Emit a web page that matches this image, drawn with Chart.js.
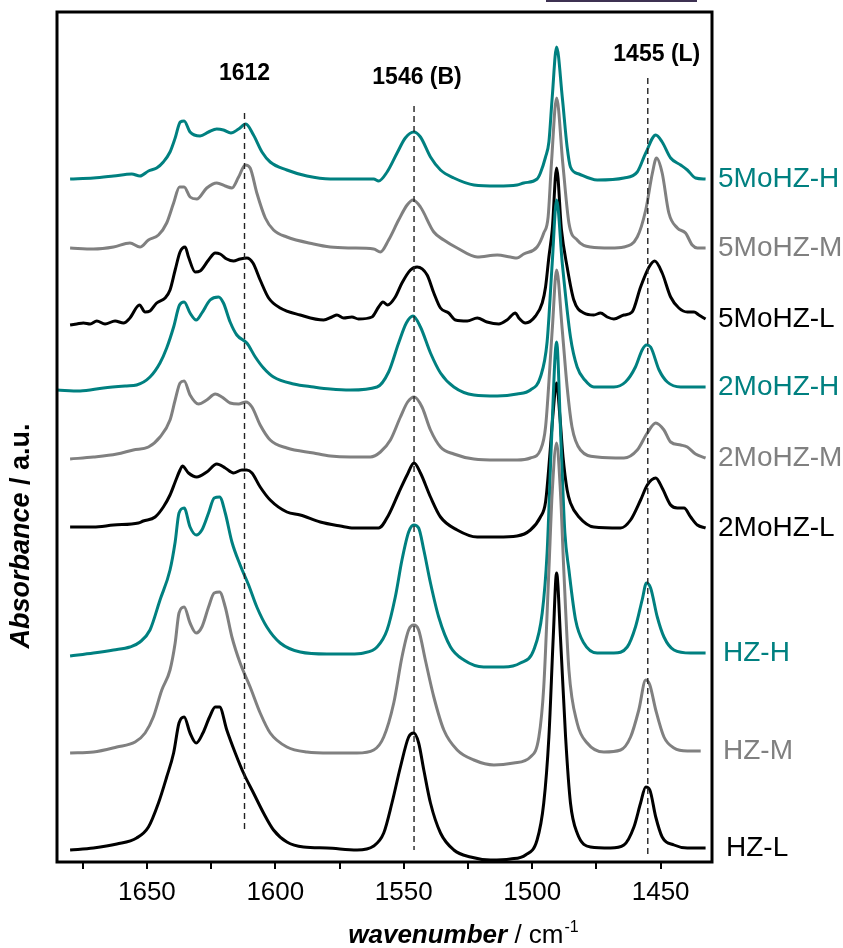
<!DOCTYPE html>
<html><head><meta charset="utf-8">
<script src="https://cdn.jsdelivr.net/npm/chart.js@4.4.0/dist/chart.umd.min.js"></script>
<style>html,body{margin:0;padding:0;background:#fff;}canvas{display:block;}</style>
</head><body>
<canvas id="c" width="843" height="948"></canvas>
<script>
// ---------- data (wavenumber / cm-1, offset absorbance / a.u.) ----------
const seriesNames = ['5MoHZ-H','5MoHZ-M','5MoHZ-L','2MoHZ-H','2MoHZ-M','2MoHZ-L','HZ-H','HZ-M','HZ-L'];

const wn5MoHZ_H = [1679.9,1670.8,1663.0,1655.9,1652.7,1649.4,1646.2,1643.6,1641.0,1639.0,1637.0,1635.5,1633.2,1629.3,1626.0,1622.8,1620.2,1617.3,1614.3,1611.5,1608.5,1605.2,1602.0,1595.5,1587.7,1578.6,1570.8,1561.7,1559.8,1556.5,1552.6,1549.4,1546.1,1543.5,1539.6,1535.7,1530.5,1522.7,1513.6,1505.9,1503.3,1498.1,1496.8,1494.8,1493.5,1492.2,1490.5,1488.3,1486.4,1485.1,1481.8,1474.7,1464.3,1459.1,1455.8,1451.9,1449.4,1446.1,1442.2,1439.6,1436.4,1432.5];
const abs5MoHZ_H = [6.83,6.84,6.86,6.88,6.86,6.91,6.94,7.00,7.10,7.24,7.40,7.41,7.30,7.26,7.30,7.33,7.32,7.29,7.33,7.38,7.27,7.10,7.00,6.92,6.86,6.83,6.83,6.83,6.81,6.90,7.09,7.24,7.30,7.25,7.05,6.92,6.84,6.77,6.76,6.77,6.79,6.83,6.89,7.05,7.20,7.65,8.15,7.65,7.15,6.95,6.88,6.82,6.84,6.90,7.09,7.27,7.20,7.04,6.97,6.92,6.84,6.83];

const wn5MoHZ_M = [1679.9,1670.8,1663.0,1656.6,1652.7,1649.4,1645.5,1642.3,1639.6,1637.3,1635.5,1633.2,1630.6,1626.7,1622.8,1619.5,1616.9,1614.3,1611.7,1609.8,1607.2,1603.9,1600.7,1595.5,1585.1,1578.6,1570.8,1561.7,1559.1,1555.9,1552.0,1548.7,1546.4,1543.5,1538.3,1534.4,1529.2,1521.4,1513.6,1508.5,1505.9,1503.3,1498.1,1495.5,1493.8,1492.5,1490.5,1488.1,1485.7,1482.5,1477.3,1469.5,1464.3,1459.1,1455.8,1453.2,1451.6,1449.4,1446.8,1443.5,1440.3,1437.7,1435.7,1432.5];
const abs5MoHZ_M = [6.14,6.13,6.15,6.19,6.15,6.22,6.27,6.39,6.59,6.75,6.75,6.65,6.63,6.74,6.79,6.76,6.74,6.85,6.97,6.94,6.69,6.44,6.32,6.25,6.18,6.15,6.14,6.13,6.10,6.22,6.42,6.57,6.62,6.55,6.30,6.22,6.14,6.05,6.07,6.05,6.04,6.08,6.15,6.29,6.45,6.99,7.64,6.99,6.39,6.22,6.15,6.14,6.15,6.25,6.52,6.89,7.04,6.89,6.49,6.34,6.29,6.17,6.14,6.14];

const wn5MoHZ_L = [1679.9,1677.3,1674.7,1672.1,1669.5,1666.3,1662.4,1659.1,1656.6,1652.9,1650.7,1648.8,1646.2,1642.9,1641.0,1639.0,1637.1,1635.1,1633.8,1631.2,1629.3,1626.0,1623.4,1621.5,1618.9,1616.3,1613.7,1611.1,1608.7,1605.9,1602.6,1598.1,1590.3,1581.2,1578.0,1576.0,1573.4,1570.2,1567.6,1562.4,1559.8,1558.1,1556.3,1553.3,1550.7,1547.4,1544.8,1540.9,1538.3,1535.7,1532.5,1529.9,1525.3,1521.4,1517.6,1513.0,1509.8,1506.5,1505.2,1502.6,1498.7,1496.1,1494.8,1493.5,1492.2,1490.5,1488.6,1486.4,1483.8,1479.9,1476.0,1473.4,1470.8,1468.2,1464.3,1461.1,1457.8,1454.5,1452.3,1449.4,1446.1,1442.9,1439.6,1437.0,1435.1,1432.5];
const abs5MoHZ_L = [5.37,5.38,5.39,5.38,5.41,5.38,5.41,5.39,5.44,5.57,5.50,5.51,5.59,5.64,5.72,5.92,6.10,6.15,6.05,5.90,5.91,6.02,6.09,6.08,6.03,6.01,6.03,6.04,5.99,5.82,5.64,5.54,5.47,5.42,5.45,5.47,5.44,5.45,5.43,5.45,5.55,5.60,5.57,5.65,5.79,5.92,5.95,5.87,5.69,5.54,5.49,5.42,5.41,5.44,5.40,5.38,5.42,5.49,5.44,5.39,5.46,5.59,5.75,6.05,6.32,6.94,6.32,5.95,5.62,5.49,5.47,5.49,5.45,5.43,5.47,5.50,5.75,5.95,6.01,5.89,5.65,5.54,5.50,5.50,5.47,5.43];

const wn2MoHZ_H = [1685.0,1676.0,1666.9,1657.9,1654.0,1648.8,1644.9,1642.3,1639.6,1637.3,1635.5,1633.2,1630.8,1628.6,1625.4,1622.1,1620.2,1617.6,1615.0,1611.1,1607.8,1604.6,1600.7,1592.9,1585.1,1578.6,1570.8,1560.4,1555.9,1552.0,1549.0,1546.4,1543.5,1539.6,1535.7,1530.5,1522.7,1513.6,1505.9,1500.7,1496.8,1494.2,1492.2,1490.5,1488.3,1485.1,1482.5,1479.5,1476.0,1468.2,1463.7,1459.8,1457.2,1455.5,1453.9,1450.6,1447.4,1442.2,1432.5];
const abs2MoHZ_H = [4.72,4.71,4.74,4.76,4.77,4.85,4.99,5.14,5.35,5.57,5.60,5.49,5.42,5.49,5.62,5.65,5.59,5.40,5.27,5.19,5.05,4.94,4.85,4.78,4.75,4.73,4.72,4.75,4.90,5.19,5.39,5.46,5.35,5.09,4.89,4.75,4.67,4.66,4.68,4.72,4.85,5.20,5.99,6.62,5.99,5.25,4.95,4.82,4.75,4.75,4.80,4.95,5.12,5.17,5.15,4.92,4.80,4.75,4.75];

const wn2MoHZ_M = [1679.9,1670.8,1661.7,1655.3,1649.4,1644.9,1641.0,1639.0,1637.1,1635.5,1633.2,1629.9,1626.7,1623.4,1620.8,1617.6,1614.3,1611.5,1609.1,1605.9,1602.0,1595.5,1585.1,1578.6,1570.8,1563.0,1559.1,1555.2,1551.3,1548.5,1545.9,1542.9,1539.6,1535.7,1530.5,1522.7,1513.6,1505.9,1500.7,1496.8,1494.8,1492.2,1490.5,1488.3,1486.4,1484.5,1481.2,1474.7,1464.3,1459.1,1455.2,1451.9,1448.7,1446.1,1442.2,1439.6,1436.4,1432.5];
const abs2MoHZ_M = [4.03,4.05,4.08,4.12,4.15,4.25,4.42,4.62,4.79,4.81,4.67,4.58,4.62,4.68,4.65,4.59,4.58,4.60,4.55,4.37,4.22,4.14,4.09,4.06,4.05,4.05,4.10,4.22,4.45,4.60,4.65,4.55,4.32,4.15,4.08,4.03,4.02,4.02,4.04,4.12,4.35,5.32,5.92,5.32,4.75,4.35,4.12,4.05,4.04,4.12,4.29,4.39,4.32,4.20,4.17,4.15,4.08,4.04];

const wn2MoHZ_L = [1679.9,1670.8,1663.0,1653.3,1651.4,1646.8,1643.6,1641.0,1639.0,1637.1,1636.2,1633.8,1630.6,1626.7,1622.8,1619.5,1616.3,1613.0,1611.1,1609.1,1605.9,1602.0,1595.5,1590.3,1582.5,1574.7,1569.5,1559.8,1555.9,1552.0,1548.7,1546.0,1543.5,1539.6,1535.7,1529.2,1521.4,1513.6,1505.9,1500.7,1496.8,1494.8,1493.2,1492.0,1490.5,1489.2,1488.0,1486.4,1485.1,1481.8,1476.0,1465.6,1461.7,1457.8,1455.2,1451.9,1449.4,1446.1,1443.5,1440.9,1438.3,1435.7,1432.5];
const abs2MoHZ_L = [3.35,3.35,3.37,3.39,3.41,3.45,3.55,3.67,3.80,3.92,3.96,3.89,3.85,3.90,3.98,3.94,3.89,3.92,3.92,3.89,3.75,3.62,3.50,3.47,3.40,3.36,3.34,3.34,3.47,3.69,3.87,3.99,3.89,3.65,3.45,3.32,3.25,3.25,3.26,3.32,3.45,3.60,4.05,4.45,4.79,4.45,4.05,3.72,3.59,3.45,3.35,3.34,3.42,3.62,3.77,3.84,3.74,3.57,3.54,3.54,3.45,3.37,3.34];

const wnHZ_H = [1679.9,1670.8,1663.0,1656.6,1652.7,1648.8,1644.9,1641.0,1639.0,1637.5,1635.5,1633.2,1630.8,1628.6,1626.0,1623.8,1621.7,1619.5,1616.9,1613.7,1610.4,1607.2,1603.3,1598.1,1590.3,1579.9,1570.8,1565.6,1560.4,1556.5,1553.3,1550.7,1548.1,1546.1,1544.2,1542.2,1539.6,1536.4,1531.8,1526.6,1518.9,1511.1,1504.6,1499.4,1496.1,1494.2,1492.5,1490.5,1488.8,1487.3,1485.7,1483.1,1479.9,1474.7,1468.2,1463.0,1459.8,1457.2,1455.5,1453.9,1451.3,1448.7,1444.8,1438.3,1432.5];
const absHZ_H = [2.06,2.09,2.12,2.15,2.20,2.32,2.62,2.92,3.20,3.49,3.54,3.35,3.27,3.32,3.49,3.64,3.65,3.49,3.20,2.97,2.77,2.55,2.35,2.19,2.10,2.08,2.08,2.09,2.15,2.32,2.65,3.02,3.30,3.37,3.34,3.12,2.79,2.45,2.15,2.02,1.95,1.95,1.99,2.12,2.49,3.09,4.20,5.20,4.20,3.30,2.92,2.42,2.19,2.09,2.09,2.15,2.35,2.62,2.79,2.74,2.45,2.25,2.12,2.09,2.09];

const wnHZ_M = [1679.9,1670.8,1661.7,1654.6,1650.7,1647.5,1644.2,1641.0,1639.0,1637.5,1635.5,1633.2,1630.8,1628.6,1626.0,1623.8,1621.7,1619.5,1616.9,1613.7,1609.8,1605.9,1602.0,1595.5,1587.7,1578.6,1568.2,1561.7,1557.8,1553.9,1550.7,1548.1,1546.1,1544.2,1541.6,1538.3,1534.4,1529.2,1522.7,1514.9,1507.2,1500.7,1497.4,1495.5,1493.5,1492.2,1490.5,1489.0,1487.7,1485.7,1482.5,1478.6,1472.1,1465.6,1461.7,1458.5,1455.8,1454.2,1451.9,1448.7,1444.8,1439.6,1434.4];
const absHZ_M = [1.09,1.10,1.15,1.20,1.29,1.45,1.72,1.92,2.19,2.49,2.55,2.39,2.29,2.35,2.55,2.69,2.70,2.55,2.25,1.99,1.75,1.49,1.29,1.15,1.10,1.09,1.09,1.12,1.25,1.59,2.05,2.32,2.37,2.32,2.02,1.65,1.32,1.12,1.02,0.97,0.99,1.05,1.25,1.75,2.92,3.70,4.19,3.70,2.92,1.92,1.39,1.19,1.10,1.12,1.25,1.52,1.82,1.77,1.52,1.25,1.14,1.11,1.11];

const wnHZ_L = [1679.9,1670.8,1661.7,1654.0,1649.4,1645.5,1642.3,1639.6,1637.5,1635.5,1633.2,1630.8,1628.2,1625.6,1623.4,1621.7,1618.9,1615.6,1612.4,1608.5,1604.6,1600.7,1595.5,1589.0,1579.9,1568.2,1561.7,1557.8,1554.6,1551.3,1548.1,1546.1,1544.2,1542.2,1539.6,1535.7,1530.5,1524.0,1516.2,1508.5,1502.6,1498.1,1495.5,1493.5,1491.8,1490.5,1489.0,1487.0,1485.1,1482.5,1477.3,1469.5,1464.3,1460.4,1457.8,1455.8,1454.2,1451.9,1449.4,1444.8,1439.6,1432.5];
const absHZ_L = [0.12,0.14,0.18,0.24,0.35,0.59,0.85,1.09,1.39,1.45,1.29,1.19,1.29,1.45,1.55,1.55,1.32,1.09,0.89,0.69,0.49,0.32,0.20,0.15,0.14,0.12,0.16,0.29,0.59,0.95,1.25,1.29,1.19,0.92,0.59,0.29,0.12,0.05,0.02,0.03,0.07,0.22,0.59,1.25,2.25,2.89,2.25,1.25,0.59,0.29,0.15,0.14,0.17,0.35,0.59,0.75,0.72,0.45,0.25,0.17,0.14,0.14];

// marker (dashed) lines
const markerWn = [1612, 1546, 1455];
const markerText = ['1612', '1546 (B)', '1455 (L)'];
const markerTop = [7.49, 7.56, 7.84];
const markerBottom = [0.29, 0.12, 0.04];
const markerLabelLevel = [7.88, 7.84, 8.07];

// axis
const xTickStep = 25;
const xMin = 1430, xMax = 1685;
const yMin = 0, yMax = 8.5;

// ---------- styles ----------
const TEAL = '#008080', GRAY = '#808080', BLACK = '#000000';
const seriesColors = [TEAL, GRAY, BLACK, TEAL, GRAY, BLACK, TEAL, GRAY, BLACK];
const FONT = '"Liberation Sans", Arial, Helvetica, sans-serif';

const wnSets = [wn5MoHZ_H, wn5MoHZ_M, wn5MoHZ_L, wn2MoHZ_H, wn2MoHZ_M, wn2MoHZ_L, wnHZ_H, wnHZ_M, wnHZ_L];
const absSets = [abs5MoHZ_H, abs5MoHZ_M, abs5MoHZ_L, abs2MoHZ_H, abs2MoHZ_M, abs2MoHZ_L, absHZ_H, absHZ_M, absHZ_L];
wnSets.forEach((w, i) => { if (w.length !== absSets[i].length) throw new Error('length mismatch ' + seriesNames[i] + ' ' + w.length + ' vs ' + absSets[i].length); });

const datasets = [];
markerWn.forEach((w, i) => {
  datasets.push({
    label: 'marker ' + markerText[i],
    data: [{x: w, y: markerTop[i]}, {x: w, y: markerBottom[i]}],
    borderColor: '#222', borderWidth: 1.4, borderDash: [6, 4],
    pointRadius: 0, tension: 0, order: 0
  });
});
seriesNames.forEach((name, i) => {
  datasets.push({
    label: name,
    data: wnSets[i].map((w, k) => ({x: w, y: absSets[i][k]})),
    borderColor: seriesColors[i], borderWidth: 3,
    pointRadius: 0, cubicInterpolationMode: 'monotone',
    order: 10 - i
  });
});

const labelDx = [6, 6, 6, 6, 6, 6, 11, 11, 14];
const markerLabelDx = [0, 3, 9];

const decor = {
  id: 'decor',
  afterDatasetsDraw(chart) {
    const {ctx, chartArea: a, scales: {x, y}} = chart;
    ctx.save();
    // frame
    ctx.lineWidth = 3; ctx.strokeStyle = '#000';
    ctx.strokeRect(a.left, a.top, a.right - a.left, a.bottom - a.top);
    // marker labels
    ctx.font = 'bold 23px ' + FONT;
    ctx.fillStyle = '#000'; ctx.textAlign = 'center'; ctx.textBaseline = 'middle';
    markerWn.forEach((w, i) => {
      ctx.fillText(markerText[i], x.getPixelForValue(w) + markerLabelDx[i], y.getPixelForValue(markerLabelLevel[i]));
    });
    // series labels at right
    ctx.font = '28px ' + FONT; ctx.textAlign = 'left';
    seriesNames.forEach((n, i) => {
      const arr = absSets[i];
      ctx.fillStyle = seriesColors[i];
      ctx.fillText(n, a.right + labelDx[i], y.getPixelForValue(arr[arr.length - 1]));
    });
    // y title
    ctx.save();
    ctx.translate(22, 536); ctx.rotate(-Math.PI / 2);
    const f1 = 'italic bold 27px ' + FONT, f2 = 'bold 27px ' + FONT;
    ctx.font = f1; const w1 = ctx.measureText('Absorbance').width;
    ctx.font = f2; const w2 = ctx.measureText(' / a.u.').width;
    let sx = -(w1 + w2) / 2;
    ctx.fillStyle = '#000'; ctx.textBaseline = 'middle'; ctx.textAlign = 'left';
    ctx.font = f1; ctx.fillText('Absorbance', sx, 0);
    ctx.font = f2; ctx.fillText(' / a.u.', sx + w1, 0);
    ctx.restore();
    // x title
    const g1 = 'italic bold 26px ' + FONT, g2 = '26px ' + FONT, g3 = '16px ' + FONT;
    ctx.font = g1; const t1 = ctx.measureText('wavenumber').width;
    ctx.font = g2; const t2 = ctx.measureText(' / cm').width;
    ctx.font = g3; const t3 = ctx.measureText('-1').width;
    let tx = 463 - (t1 + t2 + t3) / 2;
    const by = 943;
    ctx.fillStyle = '#000'; ctx.textBaseline = 'alphabetic'; ctx.textAlign = 'left';
    ctx.font = g1; ctx.fillText('wavenumber', tx, by);
    ctx.font = g2; ctx.fillText(' / cm', tx + t1, by);
    ctx.font = g3; ctx.fillText('-1', tx + t1 + t2 + 1, by - 11);
    // small bar at top edge
    ctx.fillStyle = '#3d3152';
    ctx.fillRect(546, 0, 151, 2);
    ctx.restore();
  }
};

new Chart(document.getElementById('c'), {
  type: 'line',
  data: { datasets },
  options: {
    responsive: false, animation: false, devicePixelRatio: 1,
    layout: { padding: { left: 57, right: 131, top: 12, bottom: 0 } },
    plugins: { legend: { display: false }, tooltip: { enabled: false } },
    scales: {
      x: {
        type: 'linear', reverse: true, min: xMin, max: xMax,
        afterFit: (s) => { s.height = 86; },
        border: { display: false },
        grid: { drawOnChartArea: false, drawTicks: true, tickLength: 7, color: '#000', lineWidth: 2 },
        ticks: {
          stepSize: xTickStep, includeBounds: false, autoSkip: false, maxRotation: 0,
          padding: 8, color: '#000', font: { family: FONT, size: 26 },
          callback: (v) => (v % 50 === 0 ? String(v) : '')
        }
      },
      y: { type: 'linear', min: yMin, max: yMax, display: false }
    }
  },
  plugins: [decor]
});
</script>
</body></html>
